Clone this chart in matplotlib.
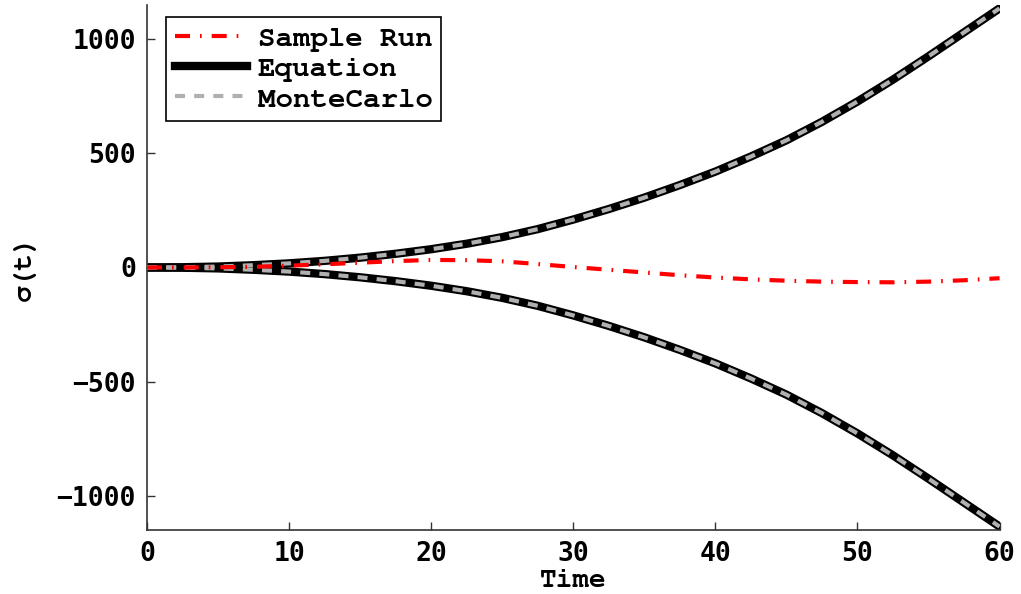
import matplotlib
matplotlib.use("Agg")
import matplotlib.pyplot as plt
import numpy as np

# time axis (read every 2.5)
t = np.arange(0, 60.01, 2.5)

# upper envelope of the equation, lower one is the mirror
eq_upper = [0, 1, 4, 10, 18, 29, 43, 60, 80, 104, 133, 168, 210,
            256, 306, 361, 420, 486, 557, 638, 727, 823, 925, 1030, 1135]
mc_upper = [0, 1, 4, 10, 18, 29, 43, 60, 80, 104, 133, 168, 210,
            256, 306, 361, 420, 486, 557, 638, 727, 823, 925, 1030, 1135]
sample_run = [0, 0, 1, 3, 8, 14, 21, 28, 33, 32, 27, 15, 2,
              -10, -22, -34, -44, -52, -58, -62, -64, -65, -62, -56, -47]

lab_font = ['Nimbus Mono PS', 'FreeMono', 'Courier New', 'Liberation Mono']
tick_font = "DejaVu Sans Mono"

fig = plt.figure(figsize=(10.21, 5.94), dpi=100)
ax = fig.add_axes([0.144, 0.1077, 0.835, 0.884])

eq_u = np.array(eq_upper)
mc_u = np.array(mc_upper)

ax.plot(t, sample_run, color='red', lw=3, dashes=(3.6, 2.4, 0.4, 2.4),
        label='Sample Run', zorder=4)
ax.plot(t, eq_u, color='black', lw=6, label='Equation', zorder=2)
ax.plot(t, -eq_u, color='black', lw=6, zorder=2)
ax.plot(t, mc_u, color='#b0b0b0', lw=3, dashes=(2.4, 2.2), label='MonteCarlo', zorder=3)
ax.plot(t, -mc_u, color='#b0b0b0', lw=3, dashes=(2.4, 2.2), zorder=3)

ax.set_xlim(0, 60)
ax.set_ylim(-1150, 1150)
ax.set_xticks(np.arange(0, 61, 10))
ax.set_yticks([-1000, -500, 0, 500, 1000])

for s in ['top', 'right']:
    ax.spines[s].set_visible(False)
for s in ['left', 'bottom']:
    ax.spines[s].set_color('#333333')
    ax.spines[s].set_linewidth(1.2)

ax.tick_params(direction='in', length=6, width=1, color='#333333', pad=8)
for lbl in ax.get_xticklabels() + ax.get_yticklabels():
    lbl.set_fontfamily(tick_font)
    lbl.set_fontweight('bold')
    lbl.set_fontsize(19)

ax.set_xlabel('Time', fontfamily=lab_font, fontweight='bold', fontsize=20, labelpad=1)
ax.set_ylabel('σ(t)', fontfamily=lab_font, fontweight='bold', fontsize=20, labelpad=14)

leg = ax.legend(loc='upper left', bbox_to_anchor=(0.022, 0.977),
                prop={'family': lab_font, 'weight': 'bold', 'size': 21},
                fancybox=False, edgecolor='black', framealpha=1,
                handlelength=2.5, labelspacing=0.13, borderpad=0.3,
                handletextpad=0.35, borderaxespad=0)
leg.get_frame().set_linewidth(1.2)

fig.savefig('out.png', dpi=100)
